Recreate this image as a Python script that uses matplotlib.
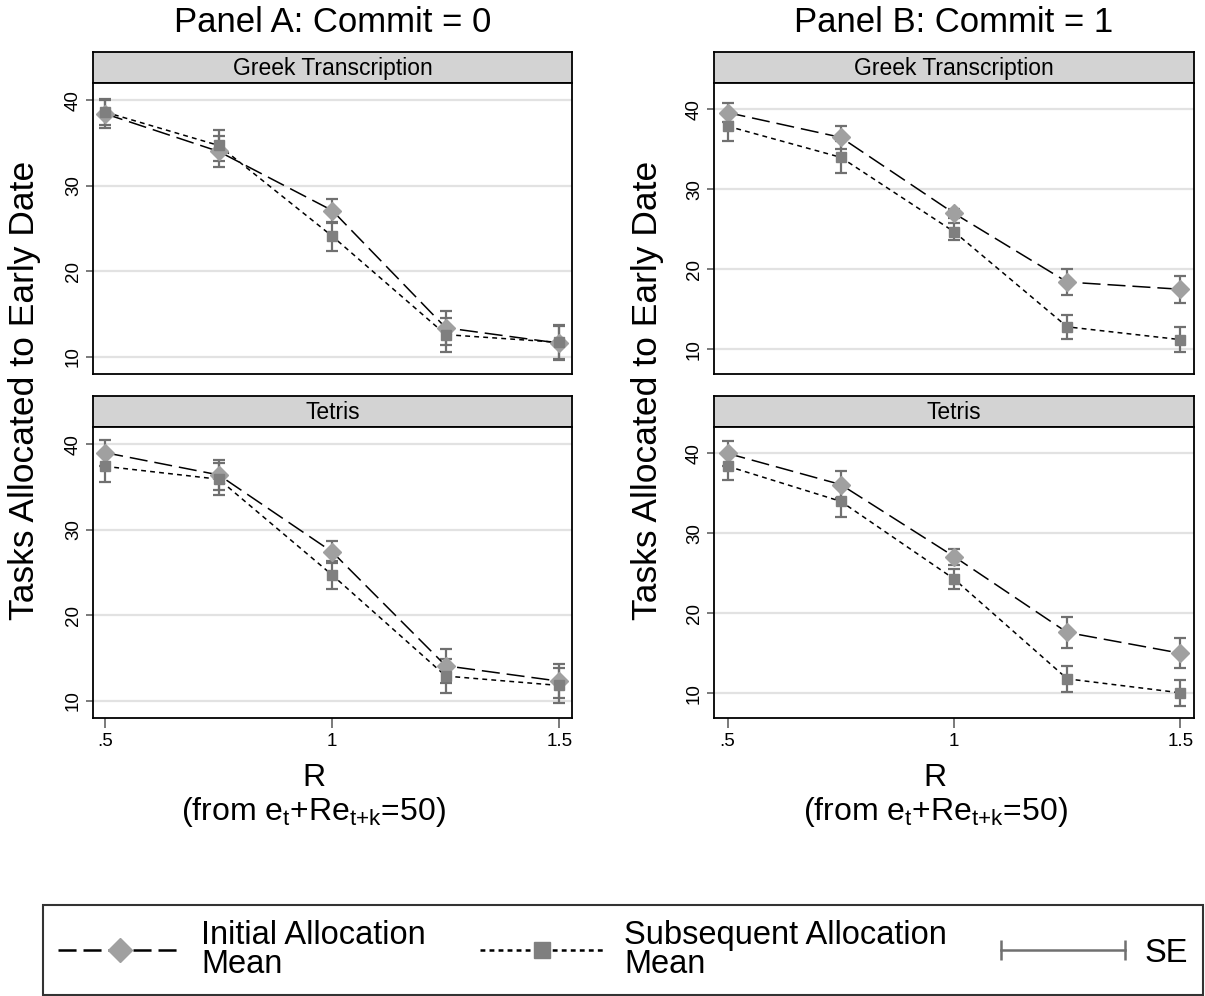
import matplotlib
matplotlib.use("Agg")
import matplotlib.pyplot as plt
from matplotlib.lines import Line2D
from matplotlib.legend_handler import HandlerBase

plt.rcParams['font.family'] = ['Liberation Sans', 'DejaVu Sans']
plt.rcParams['mathtext.fontset'] = 'custom'
plt.rcParams['mathtext.rm'] = 'Liberation Sans'
plt.rcParams['mathtext.it'] = 'Liberation Sans:italic'
plt.rcParams['lines.scale_dashes'] = False

# ---- data ----
r_values = [0.5, 0.75, 1.0, 1.25, 1.5]
r_ticks = [0.5, 1.0, 1.5]
r_tick_labels = [".5", "1", "1.5"]
y_ticks = [10, 20, 30, 40]

# Panel A: Commit = 0
greek_a_initial = [38.4, 34.0, 27.1, 13.4, 11.6]
greek_a_initial_se = [1.6, 1.85, 1.4, 2.0, 2.0]
greek_a_subseq = [38.6, 34.7, 24.1, 12.6, 11.7]
greek_a_subseq_se = [1.5, 1.85, 1.7, 2.0, 2.0]
tetris_a_initial = [39.0, 36.4, 27.4, 14.1, 12.3]
tetris_a_initial_se = [1.5, 1.8, 1.3, 2.0, 2.0]
tetris_a_subseq = [37.4, 35.9, 24.7, 12.9, 11.8]
tetris_a_subseq_se = [1.8, 1.9, 1.6, 2.0, 2.1]

# Panel B: Commit = 1
greek_b_initial = [39.6, 36.5, 27.0, 18.4, 17.5]
greek_b_initial_se = [1.2, 1.4, 0.6, 1.6, 1.7]
greek_b_subseq = [37.9, 34.0, 24.7, 12.8, 11.2]
greek_b_subseq_se = [1.8, 2.0, 1.1, 1.5, 1.55]
tetris_b_initial = [40.0, 36.1, 27.1, 17.6, 15.0]
tetris_b_initial_se = [1.6, 1.7, 1.0, 1.9, 1.85]
tetris_b_subseq = [38.4, 34.0, 24.3, 11.8, 10.05]
tetris_b_subseq_se = [1.7, 1.9, 1.25, 1.65, 1.65]

# ---- styles ----
W, H = 1205, 996
DIAMOND_C = '#a0a0a0'
SQUARE_C = '#7f7f7f'
SE_C = '#707070'
GRID_C = '#e2e2e2'
STRIP_C = '#d3d3d3'
DASH_INIT = (0, (13, 5))
DASH_SUB = (0, (3.5, 3))


def px_axes(fig, x0, y0, x1, y1):
    """Add axes from pixel coordinates (top-left origin)."""
    return fig.add_axes([x0 / W, 1 - y1 / H, (x1 - x0) / W, (y1 - y0) / H])


def draw_panel(fig, x0, x1, y_strip, y_top, y_bot, title, ylim, init, init_se, sub, sub_se, xlim, show_x):
    strip = px_axes(fig, x0, y_strip, x1, y_top)
    strip.set_facecolor(STRIP_C)
    strip.set_xticks([])
    strip.set_yticks([])
    for sp in strip.spines.values():
        sp.set_linewidth(1.3)
    strip.text(0.5, 0.48, title, ha='center', va='center', fontsize=16.5, transform=strip.transAxes)

    ax = px_axes(fig, x0, y_top, x1, y_bot)
    for sp in ax.spines.values():
        sp.set_linewidth(1.3)
    ax.set_xlim(*xlim)
    ax.set_ylim(*ylim)
    ax.set_yticks(y_ticks)
    ax.set_yticklabels([str(t) for t in y_ticks], rotation=90, va='center', fontsize=13.5)
    ax.yaxis.grid(True, color=GRID_C, linewidth=1.6)
    ax.set_axisbelow(True)
    ax.tick_params(axis='y', length=5, width=1.3, color=SE_C, pad=3)
    ax.set_xticks(r_ticks)
    if show_x:
        ax.set_xticklabels(r_tick_labels, fontsize=13.5)
        ax.tick_params(axis='x', length=7, width=1.3, color=SE_C, pad=4)
    else:
        ax.tick_params(axis='x', length=0, labelbottom=False)

    ax.errorbar(r_values, init, yerr=init_se, fmt='none', ecolor=SE_C, elinewidth=1.6,
                capsize=4.5, capthick=1.6, zorder=2)
    ax.errorbar(r_values, sub, yerr=sub_se, fmt='none', ecolor=SE_C, elinewidth=1.6,
                capsize=4.5, capthick=1.6, zorder=2)
    ax.plot(r_values, init, color='black', linestyle=DASH_INIT, linewidth=1.1, zorder=3)
    ax.plot(r_values, sub, color='black', linestyle=DASH_SUB, linewidth=1.1, zorder=3)
    ax.plot(r_values, init, linestyle='none', marker='D', markersize=9, color=DIAMOND_C, zorder=4)
    ax.plot(r_values, sub, linestyle='none', marker='s', markersize=7.5, color=SQUARE_C, zorder=4)
    return ax


class SEHandler(HandlerBase):
    def create_artists(self, legend, orig_handle, xdescent, ydescent, width, height, fontsize, trans):
        y = height / 2 - ydescent
        xs = [-xdescent, width - xdescent]
        bar = Line2D(xs, [y, y], color=SE_C, linewidth=1.8)
        caps = Line2D(xs, [y, y], linestyle='none', marker='|', markersize=14,
                      markeredgewidth=1.8, color=SE_C)
        bar.set_transform(trans)
        caps.set_transform(trans)
        return [bar, caps]


fig = plt.figure(figsize=(W / 100, H / 100), dpi=100)

panels = [
    (93, 572, (0.473, 1.528), (8.0, 42.0), "Panel A: Commit = 0",
     (greek_a_initial, greek_a_initial_se, greek_a_subseq, greek_a_subseq_se),
     (tetris_a_initial, tetris_a_initial_se, tetris_a_subseq, tetris_a_subseq_se), 25),
    (714, 1194, (0.470, 1.530), (6.9, 43.3), "Panel B: Commit = 1",
     (greek_b_initial, greek_b_initial_se, greek_b_subseq, greek_b_subseq_se),
     (tetris_b_initial, tetris_b_initial_se, tetris_b_subseq, tetris_b_subseq_se), 648),
]

for x0, x1, xlim, ylim, ptitle, greek, tetris, ylab_x in panels:
    draw_panel(fig, x0, x1, 52, 83, 374, "Greek Transcription", ylim, *greek, xlim, False)
    draw_panel(fig, x0, x1, 396, 427, 718, "Tetris", ylim, *tetris, xlim, True)
    cx = (x0 + x1) / 2
    fig.text(cx / W, 1 - 22 / H, ptitle, ha='center', va='center', fontsize=25)
    fig.text((cx - 19) / W, 1 - 778 / H, "R", ha='center', va='center', fontsize=23)
    fig.text((cx - 19) / W, 1 - 812 / H,
             r"(from e$_\mathrm{t}$+Re$_{\mathrm{t}{+}\mathrm{k}}$=50)",
             ha='center', va='center', fontsize=23)
    fig.text(ylab_x / W, 1 - 390 / H, "Tasks Allocated to Early Date", rotation=90,
             ha='center', va='center', fontsize=25.5)

h_init = Line2D([], [], color='black', linestyle=DASH_INIT, linewidth=1.8,
                marker='D', markersize=12, markerfacecolor=DIAMOND_C, markeredgecolor=DIAMOND_C)
h_sub = Line2D([], [], color='black', linestyle=DASH_SUB, linewidth=1.8,
               marker='s', markersize=12, markerfacecolor=SQUARE_C, markeredgecolor=SQUARE_C)
h_se = Line2D([], [])

leg = fig.legend([h_init, h_sub, h_se],
                 ["Initial Allocation\nMean", "Subsequent Allocation\nMean", "SE"],
                 handler_map={h_se: SEHandler()},
                 loc='lower left', bbox_to_anchor=(43 / W, 1 - 995 / H, (1203 - 43) / W, 92 / H),
                 mode='expand', ncol=3, fontsize=23.5, handlelength=3.8, handletextpad=0.6,
                 frameon=True, fancybox=False, edgecolor='black', borderaxespad=0,
                 borderpad=0.45, labelspacing=0.2)
leg.get_frame().set_linewidth(1.5)
for t in leg.get_texts():
    t.set_linespacing(0.95)

fig.savefig("out.png", dpi=100)
